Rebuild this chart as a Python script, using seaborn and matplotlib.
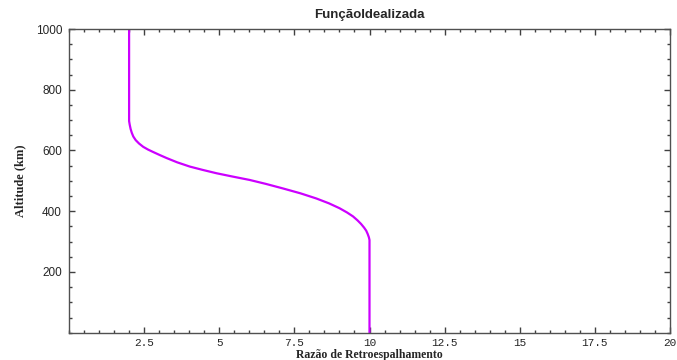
import matplotlib
matplotlib.use("Agg")
import matplotlib.pyplot as plt
import seaborn as sns
import pandas as pd
from matplotlib.ticker import MultipleLocator, FixedLocator

# Perfil idealizado da razão de retroespalhamento com a altitude
razao = [2.0, 2.0, 2.02, 2.05, 2.09, 2.14, 2.22, 2.33, 2.47, 2.63, 2.8, 3.02,
         3.25, 3.6, 4.02, 4.45, 4.91, 5.45, 6.01, 6.55, 7.12, 7.7, 8.23, 8.65,
         9.0, 9.25, 9.45, 9.6, 9.72, 9.82, 9.89, 9.94, 9.98, 10.0, 10.0]
altitude = [1000, 697, 685, 671, 658, 646, 634, 623, 612, 603, 595, 585,
            575, 561, 547, 536, 525, 514, 503, 490, 475, 459, 442, 426,
            410, 396, 383, 370, 358, 346, 336, 325, 314, 305, 0]

x_ticks = [2.5, 5, 7.5, 10, 12.5, 15, 17.5, 20]
x_tick_labels = ["2.5", "5", "7.5", "10", "12.5", "15", "17.5", "20"]
y_ticks = [200, 400, 600, 800, 1000]
y_tick_labels = ["200", "400", "600", "800", "1000"]

titulo = "FunçãoIdealizada"
rotulo_x = "Razão de Retroespalhamento"
rotulo_y = "Altitude (km)"

sns.set_theme(style="white")
plt.rcParams["font.family"] = ["Liberation Sans", "DejaVu Sans"]

df = pd.DataFrame({"razao": razao, "altitude": altitude})

fig = plt.figure(figsize=(6.77, 3.60), dpi=100)
ax = fig.add_axes([69 / 677, 1 - 332.7 / 360, (670 - 69) / 677, (332.7 - 29) / 360])

sns.lineplot(data=df, x="razao", y="altitude", ax=ax, color="#CC00FF",
             linewidth=1.6, sort=False, estimator=None)

ax.set_xlim(0, 20)
ax.set_ylim(0, 1000)

ax.xaxis.set_major_locator(FixedLocator(x_ticks))
ax.set_xticklabels(x_tick_labels, family=["Liberation Mono", "DejaVu Sans Mono"],
                   fontsize=8)
ax.xaxis.set_minor_locator(MultipleLocator(0.5))
ax.yaxis.set_major_locator(FixedLocator(y_ticks))
ax.set_yticklabels(y_tick_labels, fontsize=8.5)
ax.yaxis.set_minor_locator(MultipleLocator(50))

ax.tick_params(which="both", direction="in", top=True, right=True,
               bottom=True, left=True, color="#404040")
ax.tick_params(which="major", length=4, width=1)
ax.tick_params(which="minor", length=2.5, width=1)
ax.tick_params(axis="x", which="major", pad=3.5)
ax.tick_params(axis="y", which="major", pad=5)

for s in ax.spines.values():
    s.set_color("#505050")
    s.set_linewidth(1.0)

ax.set_title(titulo, fontsize=9.5, fontweight="bold", pad=8)
ax.set_xlabel(rotulo_x, family=["Liberation Serif", "DejaVu Serif"],
              fontweight="bold", fontsize=8.5)
ax.xaxis.set_label_coords(0.5, -0.074)
ax.xaxis.label.set_va("center")
ax.set_ylabel(rotulo_y, family=["Liberation Serif", "DejaVu Serif"],
              fontweight="bold", fontsize=9)
ax.yaxis.set_label_coords(-0.081, 0.5)
ax.yaxis.label.set_va("center")

fig.savefig("out.png", dpi=100, facecolor="white")
